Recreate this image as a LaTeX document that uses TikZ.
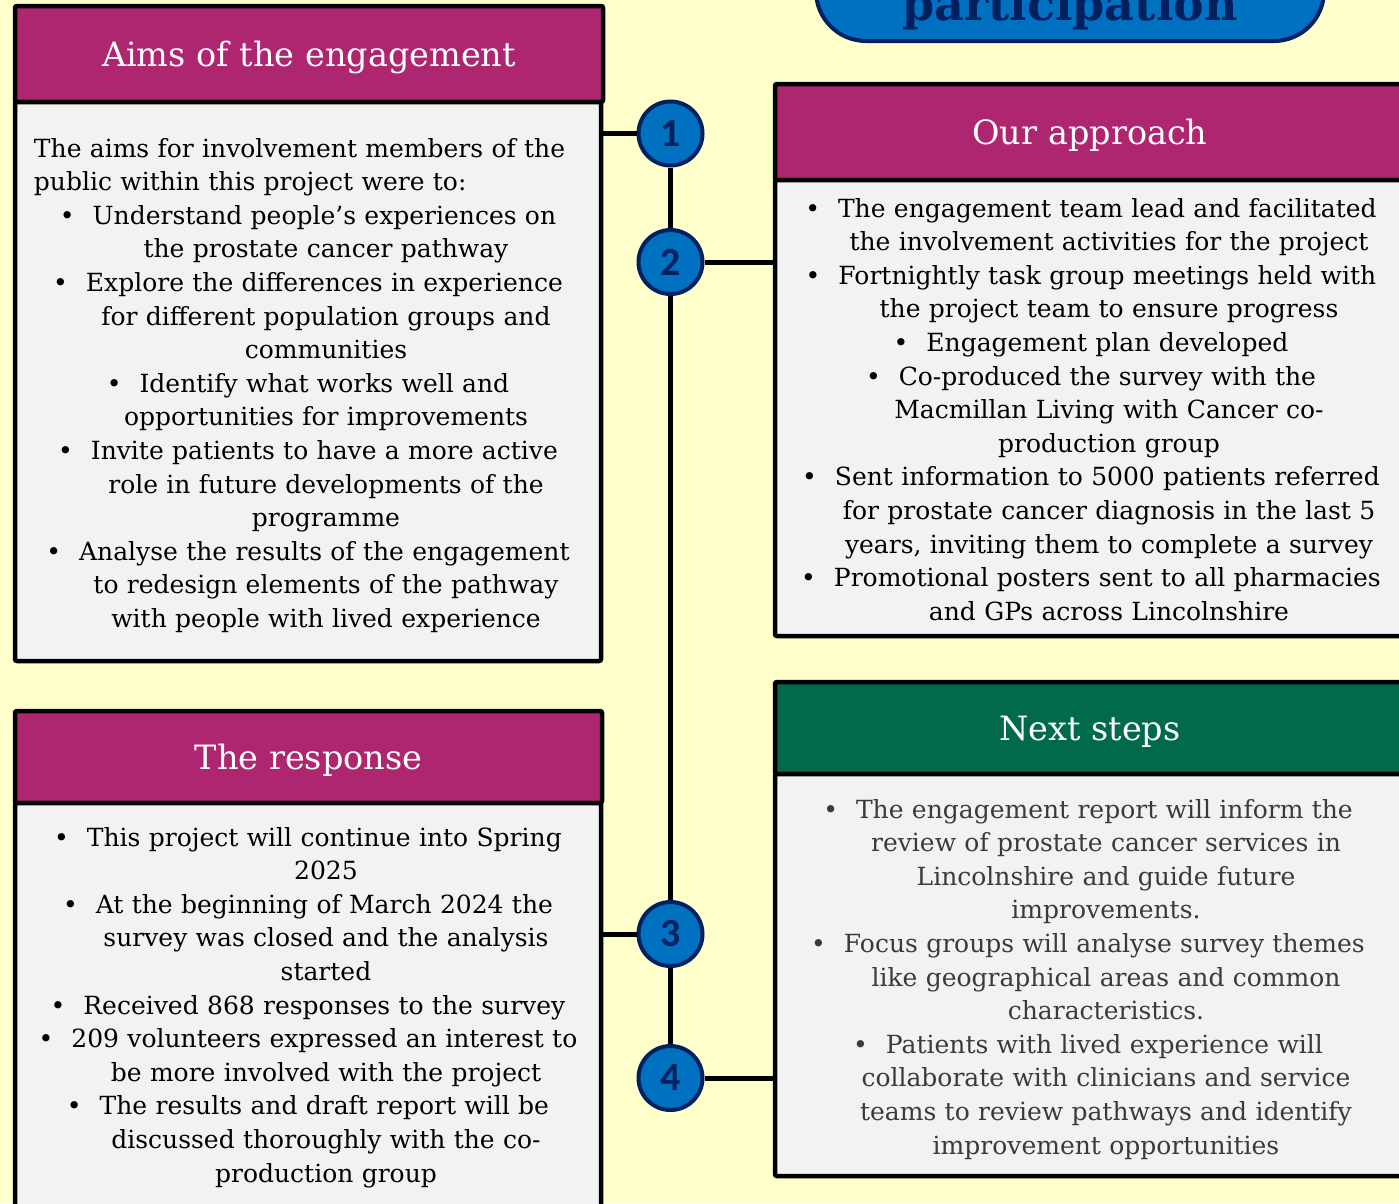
\documentclass[tikz,border=0pt]{standalone}
\usepackage{fontspec}
\setmainfont{DejaVu Serif}
\newfontfamily\numfont{Carlito}
\definecolor{bg}{HTML}{FFFFCC}
\definecolor{berry}{HTML}{AE2570}
\definecolor{forest}{HTML}{006A4A}
\definecolor{panel}{HTML}{F2F2F2}
\definecolor{navy}{HTML}{002060}
\definecolor{midblue}{HTML}{0070C0}
\definecolor{greytext}{HTML}{3A3A3A}
\newcommand\bl{\hspace*{-36pt}•\hspace{18pt}}
\begin{document}
\begin{tikzpicture}[x=1pt,y=-1pt,
  head/.style={draw=black, line width=4.5pt, rounded corners=2pt, fill=berry, text=white,
    anchor=north west, inner sep=0pt, outer sep=0pt, text depth=0pt, font=\fontsize{33.5}{40}\selectfont},
  panelbox/.style={draw=black, line width=4.5pt, rounded corners=2pt, fill=panel,
    anchor=north west, inner sep=0pt, outer sep=0pt},
  bodytext/.style={align=center, text width=700pt, inner sep=0pt, anchor=base,
    font=\fontsize{25}{33.6}\selectfont},
  num/.style={circle, draw=navy, fill=midblue, line width=4pt, minimum size=64pt, inner sep=0pt,
    text=navy, font=\numfont\bfseries\fontsize{40}{40}\selectfont},
  link/.style={line width=5pt, draw=black}]
\useasboundingbox (0,0) rectangle (1399,1203);
\fill[bg] (0,0) rectangle (1399,1203);

% banner
\node[draw=navy, fill=midblue, line width=4pt, rounded corners=50pt, minimum width=508pt,
  minimum height=110pt, anchor=south west, inner sep=0pt, outer sep=0pt] (banner) at (816,41) {};
\node[anchor=base, inner sep=0pt, text=navy, font=\bfseries\fontsize{46}{50}\selectfont]
  (bannertext) at (1070,20) {participation};

% Aims
\node[head, minimum width=588pt, minimum height=96pt] (aimshead) at (15,6) {Aims of the engagement};
\node[panelbox, minimum width=586pt, minimum height=559pt] (aimsbody) at (15,102) {};
\node[bodytext] (aimstext) at (326,157) {%
\makebox[584pt][l]{The aims for involvement members of the}\\
\makebox[584pt][l]{public within this project were to:}\\
\bl Understand people’s experiences on\\
the prostate cancer pathway\\
\bl Explore the differences in experience\\
for different population groups and\\
communities\\
\bl Identify what works well and\\
opportunities for improvements\\
\bl Invite patients to have a more active\\
role in future developments of the\\
programme\\
\bl Analyse the results of the engagement\\
to redesign elements of the pathway\\
with people with lived experience};

% Response
\node[head, minimum width=587pt, minimum height=92pt] (resphead) at (15,711) {The response};
\node[panelbox, minimum width=586pt, minimum height=430pt] (respbody) at (15,803) {};
\node[bodytext] (resptext) at (326,846) {%
\bl This project will continue into Spring\\
2025\\
\bl At the beginning of March 2024 the\\
survey was closed and the analysis\\
started\\
\bl Received 868 responses to the survey\\
\bl 209 volunteers expressed an interest to\\
be more involved with the project\\
\bl The results and draft report will be\\
discussed thoroughly with the co-\\
production group};

% Our approach
\node[head, minimum width=630pt, minimum height=96pt] (apphead) at (775,84) {Our approach};
\node[panelbox, minimum width=640pt, minimum height=456pt] (appbody) at (775,180) {};
\node[bodytext] (apptext) at (1109,217) {%
\bl The engagement team lead and facilitated\\
the involvement activities for the project\\
\bl Fortnightly task group meetings held with\\
the project team to ensure progress\\
\bl Engagement plan developed\\
\bl Co-produced the survey with the\\
Macmillan Living with Cancer co-\\
production group\\
\bl Sent information to 5000 patients referred\\
for prostate cancer diagnosis in the last 5\\
years, inviting them to complete a survey\\
\bl Promotional posters sent to all pharmacies\\
and GPs across Lincolnshire};

% Next steps
\node[head, fill=forest, minimum width=630pt, minimum height=92pt] (nexthead) at (775,682) {Next steps};
\node[panelbox, minimum width=640pt, minimum height=402pt] (nextbody) at (775,774) {};
\node[bodytext, text=greytext] (nexttext) at (1106,818) {%
\bl The engagement report will inform the\\
review of prostate cancer services in\\
Lincolnshire and guide future\\
improvements.\\
\bl Focus groups will analyse survey themes\\
like geographical areas and common\\
characteristics.\\
\bl Patients with lived experience will\\
collaborate with clinicians and service\\
teams to review pathways and identify\\
improvement opportunities};

% timeline
\node[num] (c1) at (670.5,133.5) {1};
\node[num] (c2) at (670.5,262) {2};
\node[num] (c3) at (670.5,934) {3};
\node[num] (c4) at (670.5,1078) {4};
\draw[link] (c1) -- (c2);
\draw[link] (c2) -- (c3);
\draw[link] (c3) -- (c4);
\draw[link] (c1.west) -- (aimsbody.east |- c1.west);
\draw[link] (c2.east) -- (appbody.west |- c2.east);
\draw[link] (c3.west) -- (respbody.east |- c3.west);
\draw[link] (c4.east) -- (nextbody.west |- c4.east);
\end{tikzpicture}
\end{document}
